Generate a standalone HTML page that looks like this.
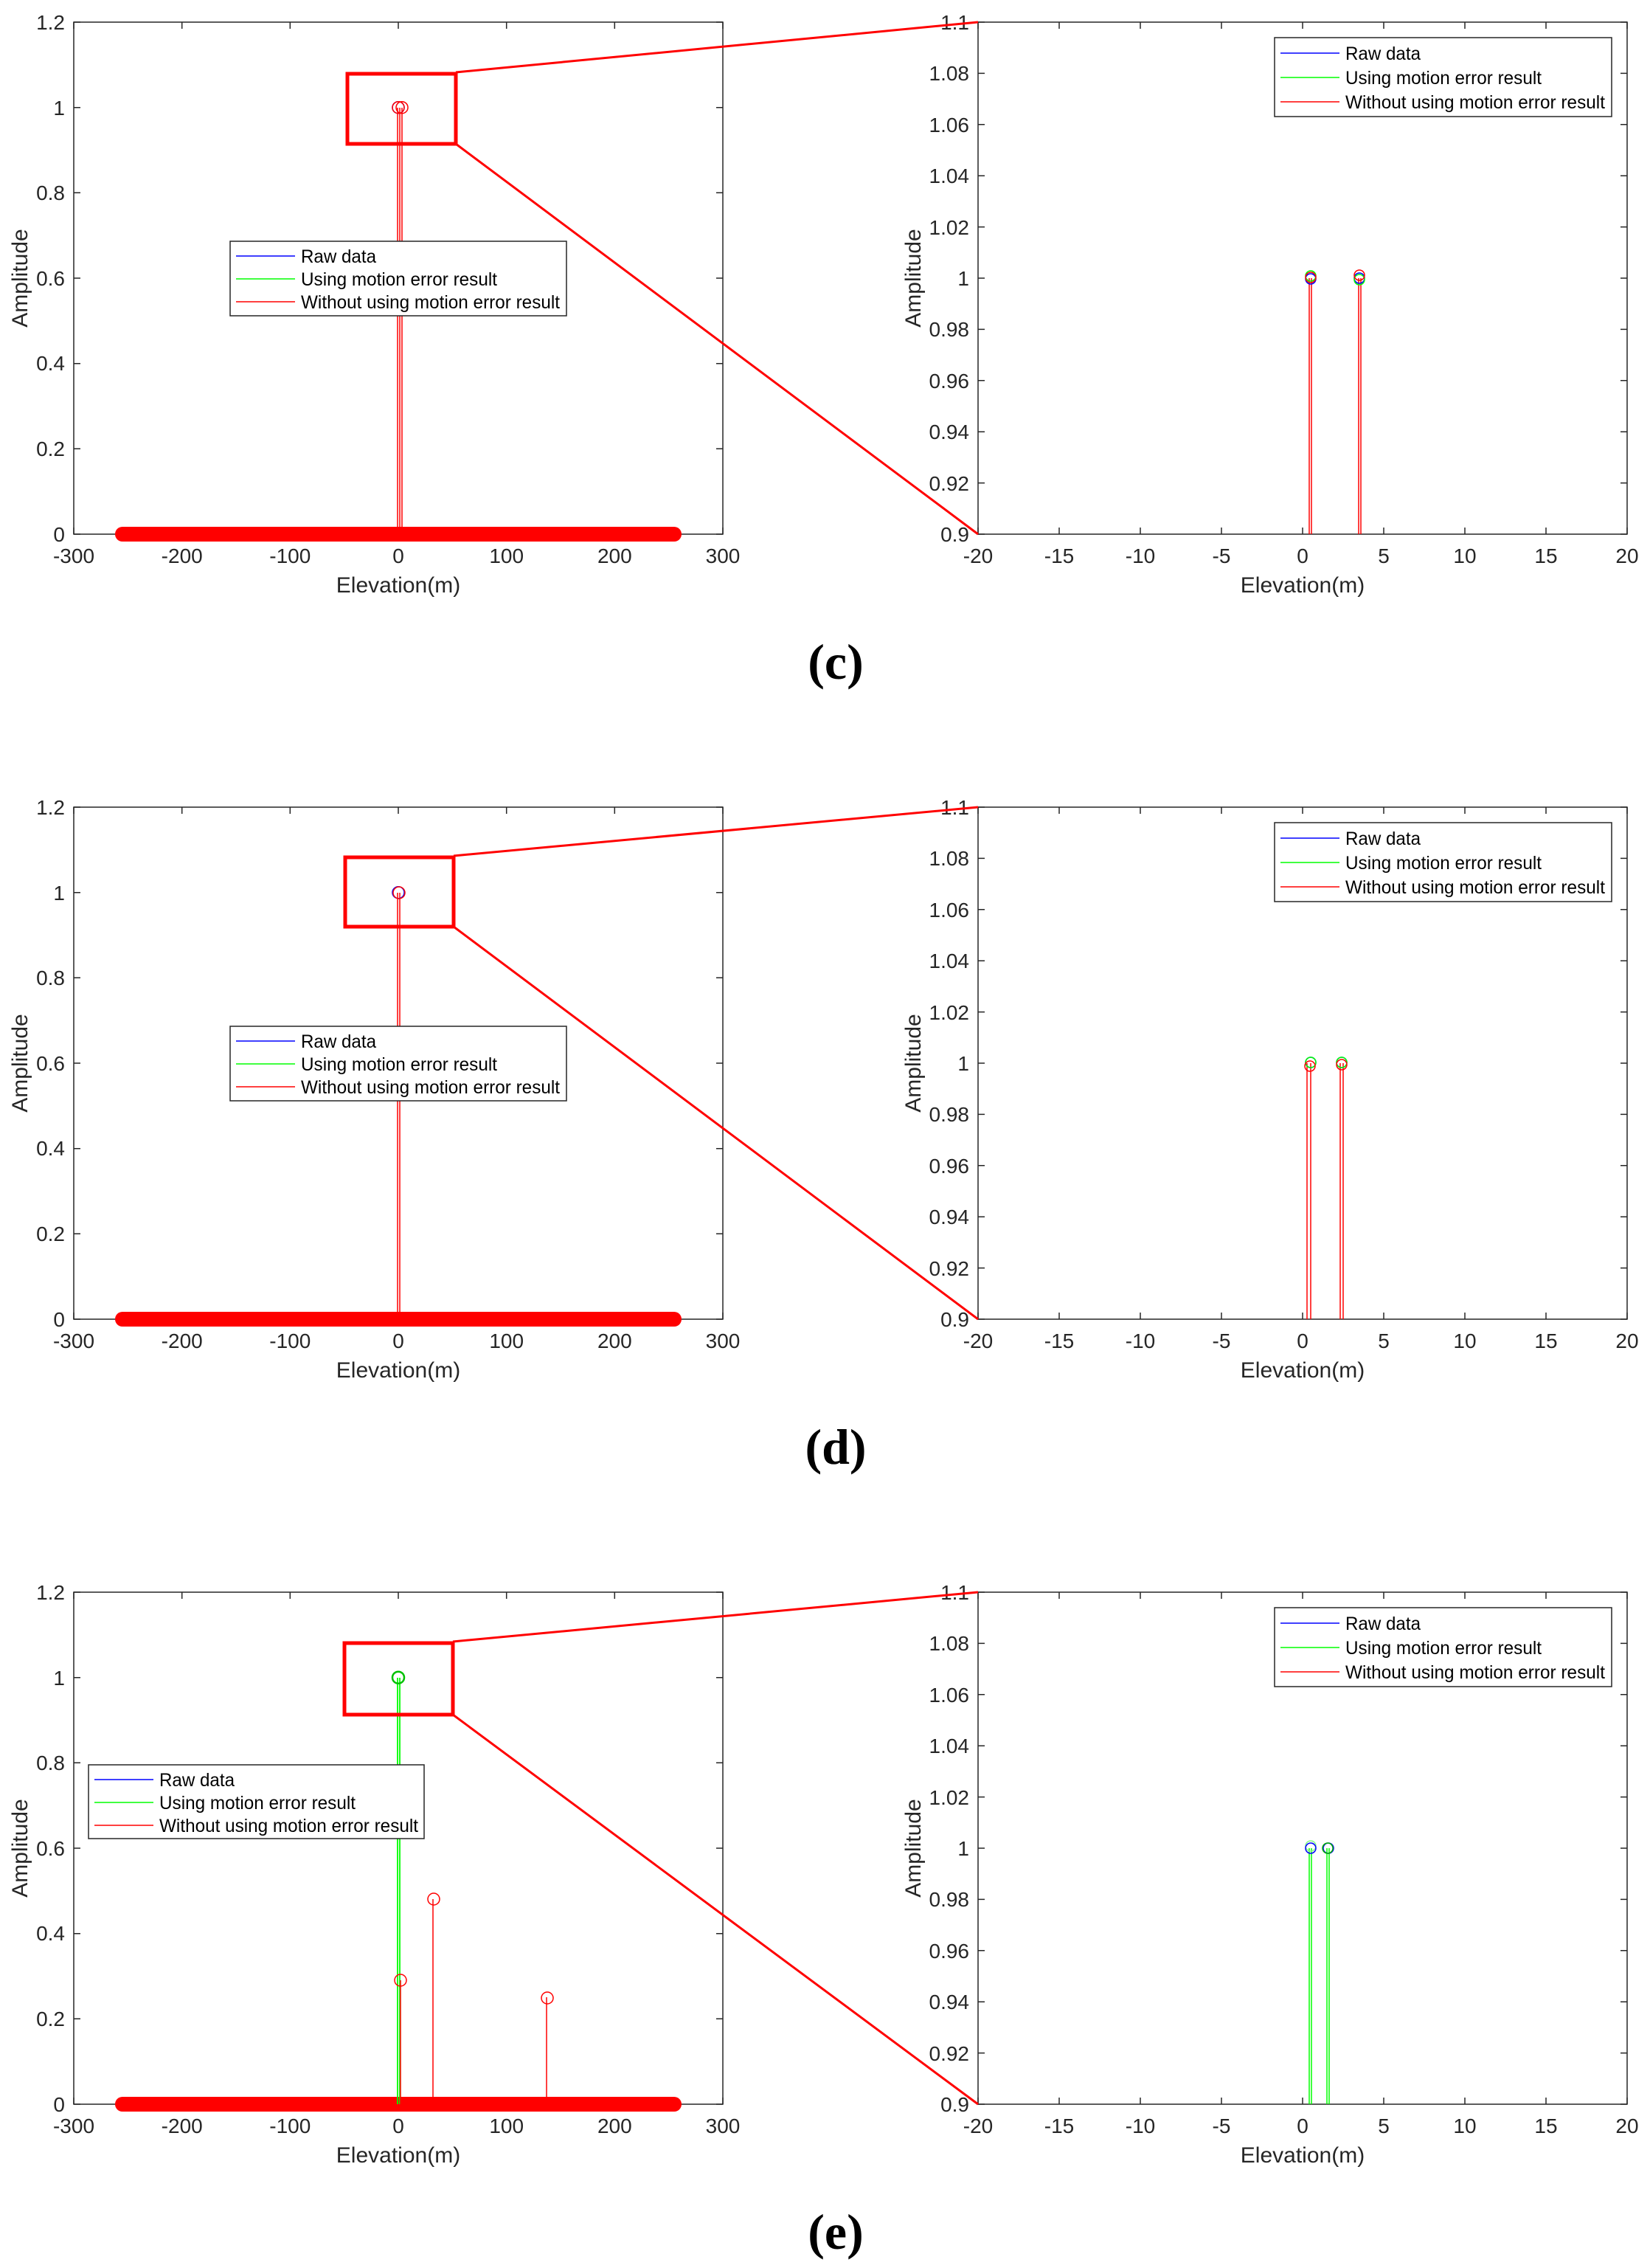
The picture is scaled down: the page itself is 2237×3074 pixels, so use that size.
<!DOCTYPE html>
<html><head><meta charset="utf-8"><style>
html,body{margin:0;padding:0;background:#fff}
svg{display:block}
text{font-family:"Liberation Sans",sans-serif;fill:#262626}
.t{font-size:28px}
.tr{font-size:28px;text-anchor:end}
.tm{font-size:28px;text-anchor:middle}
.lab{font-size:30px;text-anchor:middle}
.lg{font-size:25px;fill:#000}
.pl{font-family:"Liberation Serif",serif;font-weight:bold;font-size:68px;text-anchor:middle;fill:#000}
</style></head><body>
<svg width="2237" height="3074" viewBox="0 0 2237 3074" xmlns="http://www.w3.org/2000/svg">
<defs>
<g id="lax">
<rect x="100" y="30" width="880" height="694" fill="none" stroke="#262626" stroke-width="1.5"/>
<path d="M100,724v-9M246.7,724v-9M393.3,724v-9M540,724v-9M686.7,724v-9M833.3,724v-9M980,724v-9M100,30v9M246.7,30v9M393.3,30v9M540,30v9M686.7,30v9M833.3,30v9M980,30v9M100,724h9M100,608.3h9M100,492.7h9M100,377h9M100,261.3h9M100,145.7h9M100,30h9M980,724h-9M980,608.3h-9M980,492.7h-9M980,377h-9M980,261.3h-9M980,145.7h-9M980,30h-9" stroke="#262626" stroke-width="1.5"/>
<rect x="156" y="714" width="768" height="20" rx="10" fill="#ff0000"/>
</g>
<g id="rax">
<rect x="1326" y="30" width="880" height="694" fill="none" stroke="#262626" stroke-width="1.5"/>
<path d="M1326,724v-9M1436,724v-9M1546,724v-9M1656,724v-9M1766,724v-9M1876,724v-9M1986,724v-9M2096,724v-9M2206,724v-9M1326,30v9M1436,30v9M1546,30v9M1656,30v9M1766,30v9M1876,30v9M1986,30v9M2096,30v9M2206,30v9M1326,724h9M1326,654.6h9M1326,585.2h9M1326,515.8h9M1326,446.4h9M1326,377h9M1326,307.6h9M1326,238.2h9M1326,168.8h9M1326,99.4h9M1326,30h9M2206,724h-9M2206,654.6h-9M2206,585.2h-9M2206,515.8h-9M2206,446.4h-9M2206,377h-9M2206,307.6h-9M2206,238.2h-9M2206,168.8h-9M2206,99.4h-9M2206,30h-9" stroke="#262626" stroke-width="1.5"/>
</g>
</defs>

<!-- PANEL C -->
<g>
<use href="#lax"/><use href="#rax"/>
<text x="100" y="763" class="tm">-300</text><text x="246.7" y="763" class="tm">-200</text><text x="393.3" y="763" class="tm">-100</text><text x="540" y="763" class="tm">0</text><text x="686.7" y="763" class="tm">100</text><text x="833.3" y="763" class="tm">200</text><text x="980" y="763" class="tm">300</text>
<text x="88" y="734" class="tr">0</text><text x="88" y="618" class="tr">0.2</text><text x="88" y="502" class="tr">0.4</text><text x="88" y="387" class="tr">0.6</text><text x="88" y="271" class="tr">0.8</text><text x="88" y="156" class="tr">1</text><text x="88" y="40" class="tr">1.2</text>
<text x="540" y="803" class="lab">Elevation(m)</text>
<text transform="translate(37,377) rotate(-90)" class="lab">Amplitude</text>
<text x="1326" y="763" class="tm">-20</text><text x="1436" y="763" class="tm">-15</text><text x="1546" y="763" class="tm">-10</text><text x="1656" y="763" class="tm">-5</text><text x="1766" y="763" class="tm">0</text><text x="1876" y="763" class="tm">5</text><text x="1986" y="763" class="tm">10</text><text x="2096" y="763" class="tm">15</text><text x="2206" y="763" class="tm">20</text>
<text x="1314" y="734" class="tr">0.9</text><text x="1314" y="665" class="tr">0.92</text><text x="1314" y="595" class="tr">0.94</text><text x="1314" y="526" class="tr">0.96</text><text x="1314" y="456" class="tr">0.98</text><text x="1314" y="387" class="tr">1</text><text x="1314" y="318" class="tr">1.02</text><text x="1314" y="248" class="tr">1.04</text><text x="1314" y="179" class="tr">1.06</text><text x="1314" y="109" class="tr">1.08</text><text x="1314" y="40" class="tr">1.1</text>
<text x="1766" y="803" class="lab">Elevation(m)</text>
<text transform="translate(1248,377) rotate(-90)" class="lab">Amplitude</text>
<path d="M539,724V146M542,724V146M545,724V146" stroke="#f00" stroke-width="1.5"/>
<circle cx="540" cy="145.7" r="8" fill="none" stroke="#00f" stroke-width="1.5"/>
<circle cx="540" cy="145.7" r="8" fill="none" stroke="#f00" stroke-width="1.5"/>
<circle cx="545" cy="145.7" r="8" fill="none" stroke="#f00" stroke-width="1.5"/>
<rect x="471" y="100" width="147" height="95" fill="none" stroke="#f00" stroke-width="5"/>
<path d="M618,98L1326,30M618,195L1326,724" stroke="#f00" stroke-width="3"/>
<rect x="312" y="327" width="456" height="101" fill="#fff" stroke="#262626" stroke-width="1.5"/>
<path d="M320,347h80" stroke="#00f" stroke-width="1.5"/><path d="M320,378h80" stroke="#0f0" stroke-width="1.5"/><path d="M320,409h80" stroke="#f00" stroke-width="1.5"/>
<text x="408" y="356" class="lg" textLength="102" lengthAdjust="spacingAndGlyphs">Raw data</text><text x="408" y="387" class="lg" textLength="266" lengthAdjust="spacingAndGlyphs">Using motion error result</text><text x="408" y="418" class="lg" textLength="351" lengthAdjust="spacingAndGlyphs">Without using motion error result</text>
<path d="M1775,724V377M1778,724V377M1842,724V377M1845,724V377" stroke="#f00" stroke-width="1.5"/>
<circle cx="1777" cy="378" r="7" fill="none" stroke="#00f" stroke-width="1.5"/>
<circle cx="1777" cy="374" r="7" fill="none" stroke="#0f0" stroke-width="1.5"/>
<circle cx="1777" cy="376" r="7" fill="none" stroke="#f00" stroke-width="1.5"/>
<circle cx="1843" cy="377" r="7" fill="none" stroke="#00f" stroke-width="1.5"/>
<circle cx="1843" cy="379" r="7" fill="none" stroke="#0f0" stroke-width="1.5"/>
<circle cx="1843" cy="373" r="7" fill="none" stroke="#f00" stroke-width="1.5"/>
<rect x="1728" y="51" width="457" height="107" fill="#fff" stroke="#262626" stroke-width="1.5"/>
<path d="M1736,72h80" stroke="#00f" stroke-width="1.5"/><path d="M1736,105h80" stroke="#0f0" stroke-width="1.5"/><path d="M1736,138h80" stroke="#f00" stroke-width="1.5"/>
<text x="1824" y="81" class="lg" textLength="102" lengthAdjust="spacingAndGlyphs">Raw data</text><text x="1824" y="114" class="lg" textLength="266" lengthAdjust="spacingAndGlyphs">Using motion error result</text><text x="1824" y="147" class="lg" textLength="352" lengthAdjust="spacingAndGlyphs">Without using motion error result</text>
<text x="1133" y="920" class="pl">(c)</text>
</g>

<!-- PANEL D -->
<g transform="translate(0,1064)">
<use href="#lax"/><use href="#rax"/>
<text x="100" y="763" class="tm">-300</text><text x="246.7" y="763" class="tm">-200</text><text x="393.3" y="763" class="tm">-100</text><text x="540" y="763" class="tm">0</text><text x="686.7" y="763" class="tm">100</text><text x="833.3" y="763" class="tm">200</text><text x="980" y="763" class="tm">300</text>
<text x="88" y="734" class="tr">0</text><text x="88" y="618" class="tr">0.2</text><text x="88" y="502" class="tr">0.4</text><text x="88" y="387" class="tr">0.6</text><text x="88" y="271" class="tr">0.8</text><text x="88" y="156" class="tr">1</text><text x="88" y="40" class="tr">1.2</text>
<text x="540" y="803" class="lab">Elevation(m)</text>
<text transform="translate(37,377) rotate(-90)" class="lab">Amplitude</text>
<text x="1326" y="763" class="tm">-20</text><text x="1436" y="763" class="tm">-15</text><text x="1546" y="763" class="tm">-10</text><text x="1656" y="763" class="tm">-5</text><text x="1766" y="763" class="tm">0</text><text x="1876" y="763" class="tm">5</text><text x="1986" y="763" class="tm">10</text><text x="2096" y="763" class="tm">15</text><text x="2206" y="763" class="tm">20</text>
<text x="1314" y="734" class="tr">0.9</text><text x="1314" y="665" class="tr">0.92</text><text x="1314" y="595" class="tr">0.94</text><text x="1314" y="526" class="tr">0.96</text><text x="1314" y="456" class="tr">0.98</text><text x="1314" y="387" class="tr">1</text><text x="1314" y="318" class="tr">1.02</text><text x="1314" y="248" class="tr">1.04</text><text x="1314" y="179" class="tr">1.06</text><text x="1314" y="109" class="tr">1.08</text><text x="1314" y="40" class="tr">1.1</text>
<text x="1766" y="803" class="lab">Elevation(m)</text>
<text transform="translate(1248,377) rotate(-90)" class="lab">Amplitude</text>
<path d="M539,724V146M542,724V146" stroke="#f00" stroke-width="1.5"/>
<circle cx="540" cy="145.7" r="8" fill="none" stroke="#00f" stroke-width="1.5"/>
<circle cx="541" cy="146" r="8" fill="none" stroke="#f00" stroke-width="1.5"/>
<rect x="468" y="98" width="147" height="94" fill="none" stroke="#f00" stroke-width="5"/>
<path d="M615,96L1326,30M615,192L1326,724" stroke="#f00" stroke-width="3"/>
<rect x="312" y="327" width="456" height="101" fill="#fff" stroke="#262626" stroke-width="1.5"/>
<path d="M320,347h80" stroke="#00f" stroke-width="1.5"/><path d="M320,378h80" stroke="#0f0" stroke-width="1.5"/><path d="M320,409h80" stroke="#f00" stroke-width="1.5"/>
<text x="408" y="356" class="lg" textLength="102" lengthAdjust="spacingAndGlyphs">Raw data</text><text x="408" y="387" class="lg" textLength="266" lengthAdjust="spacingAndGlyphs">Using motion error result</text><text x="408" y="418" class="lg" textLength="351" lengthAdjust="spacingAndGlyphs">Without using motion error result</text>
<path d="M1772,724V377M1777,724V377M1817,724V377M1821,724V377" stroke="#f00" stroke-width="1.5"/>
<circle cx="1777" cy="376" r="7" fill="none" stroke="#00f" stroke-width="1.5"/>
<circle cx="1777" cy="376" r="7" fill="none" stroke="#0f0" stroke-width="1.5"/>
<circle cx="1776" cy="381" r="7" fill="none" stroke="#f00" stroke-width="1.5"/>
<circle cx="1819" cy="376" r="7" fill="none" stroke="#00f" stroke-width="1.5"/>
<circle cx="1819" cy="376" r="7" fill="none" stroke="#0f0" stroke-width="1.5"/>
<circle cx="1819" cy="379" r="7" fill="none" stroke="#f00" stroke-width="1.5"/>
<rect x="1728" y="51" width="457" height="107" fill="#fff" stroke="#262626" stroke-width="1.5"/>
<path d="M1736,72h80" stroke="#00f" stroke-width="1.5"/><path d="M1736,105h80" stroke="#0f0" stroke-width="1.5"/><path d="M1736,138h80" stroke="#f00" stroke-width="1.5"/>
<text x="1824" y="81" class="lg" textLength="102" lengthAdjust="spacingAndGlyphs">Raw data</text><text x="1824" y="114" class="lg" textLength="266" lengthAdjust="spacingAndGlyphs">Using motion error result</text><text x="1824" y="147" class="lg" textLength="352" lengthAdjust="spacingAndGlyphs">Without using motion error result</text>
<text x="1133" y="920" class="pl">(d)</text>
</g>

<!-- PANEL E -->
<g transform="translate(0,2128)">
<use href="#lax"/><use href="#rax"/>
<text x="100" y="763" class="tm">-300</text><text x="246.7" y="763" class="tm">-200</text><text x="393.3" y="763" class="tm">-100</text><text x="540" y="763" class="tm">0</text><text x="686.7" y="763" class="tm">100</text><text x="833.3" y="763" class="tm">200</text><text x="980" y="763" class="tm">300</text>
<text x="88" y="734" class="tr">0</text><text x="88" y="618" class="tr">0.2</text><text x="88" y="502" class="tr">0.4</text><text x="88" y="387" class="tr">0.6</text><text x="88" y="271" class="tr">0.8</text><text x="88" y="156" class="tr">1</text><text x="88" y="40" class="tr">1.2</text>
<text x="540" y="803" class="lab">Elevation(m)</text>
<text transform="translate(37,377) rotate(-90)" class="lab">Amplitude</text>
<text x="1326" y="763" class="tm">-20</text><text x="1436" y="763" class="tm">-15</text><text x="1546" y="763" class="tm">-10</text><text x="1656" y="763" class="tm">-5</text><text x="1766" y="763" class="tm">0</text><text x="1876" y="763" class="tm">5</text><text x="1986" y="763" class="tm">10</text><text x="2096" y="763" class="tm">15</text><text x="2206" y="763" class="tm">20</text>
<text x="1314" y="734" class="tr">0.9</text><text x="1314" y="665" class="tr">0.92</text><text x="1314" y="595" class="tr">0.94</text><text x="1314" y="526" class="tr">0.96</text><text x="1314" y="456" class="tr">0.98</text><text x="1314" y="387" class="tr">1</text><text x="1314" y="318" class="tr">1.02</text><text x="1314" y="248" class="tr">1.04</text><text x="1314" y="179" class="tr">1.06</text><text x="1314" y="109" class="tr">1.08</text><text x="1314" y="40" class="tr">1.1</text>
<text x="1766" y="803" class="lab">Elevation(m)</text>
<text transform="translate(1248,377) rotate(-90)" class="lab">Amplitude</text>
<path d="M539,724V146M542,724V146" stroke="#0f0" stroke-width="1.8"/>
<path d="M543,724V556M587,724V446M741,724V579" stroke="#f00" stroke-width="1.5"/>
<circle cx="540" cy="145.7" r="8" fill="none" stroke="#00c000" stroke-width="2.5"/>
<circle cx="543" cy="556" r="8" fill="none" stroke="#f00" stroke-width="1.5"/>
<circle cx="588" cy="446" r="8" fill="none" stroke="#f00" stroke-width="1.5"/>
<circle cx="742" cy="580" r="8" fill="none" stroke="#f00" stroke-width="1.5"/>
<rect x="467" y="99" width="147" height="97" fill="none" stroke="#f00" stroke-width="5"/>
<path d="M614,97L1326,30M614,196L1326,724" stroke="#f00" stroke-width="3"/>
<rect x="120" y="264" width="455" height="100" fill="#fff" stroke="#262626" stroke-width="1.5"/>
<path d="M128,284h80" stroke="#00f" stroke-width="1.5"/><path d="M128,315h80" stroke="#0f0" stroke-width="1.5"/><path d="M128,346h80" stroke="#f00" stroke-width="1.5"/>
<text x="216" y="293" class="lg" textLength="102" lengthAdjust="spacingAndGlyphs">Raw data</text><text x="216" y="324" class="lg" textLength="266" lengthAdjust="spacingAndGlyphs">Using motion error result</text><text x="216" y="355" class="lg" textLength="351" lengthAdjust="spacingAndGlyphs">Without using motion error result</text>
<path d="M1775,724V377M1778,724V377M1799,724V377M1802,724V377" stroke="#0f0" stroke-width="1.5"/>
<circle cx="1777" cy="374" r="7" fill="none" stroke="#8f8" stroke-width="1.5"/>
<circle cx="1777" cy="377" r="7" fill="none" stroke="#00f" stroke-width="1.5"/>
<circle cx="1801" cy="377" r="7" fill="none" stroke="#00f" stroke-width="1.5"/>
<circle cx="1800" cy="377" r="7" fill="none" stroke="#00b000" stroke-width="1.5"/>
<rect x="1728" y="51" width="457" height="107" fill="#fff" stroke="#262626" stroke-width="1.5"/>
<path d="M1736,72h80" stroke="#00f" stroke-width="1.5"/><path d="M1736,105h80" stroke="#0f0" stroke-width="1.5"/><path d="M1736,138h80" stroke="#f00" stroke-width="1.5"/>
<text x="1824" y="81" class="lg" textLength="102" lengthAdjust="spacingAndGlyphs">Raw data</text><text x="1824" y="114" class="lg" textLength="266" lengthAdjust="spacingAndGlyphs">Using motion error result</text><text x="1824" y="147" class="lg" textLength="352" lengthAdjust="spacingAndGlyphs">Without using motion error result</text>
<text x="1133" y="920" class="pl">(e)</text>
</g>
</svg>
</body></html>
